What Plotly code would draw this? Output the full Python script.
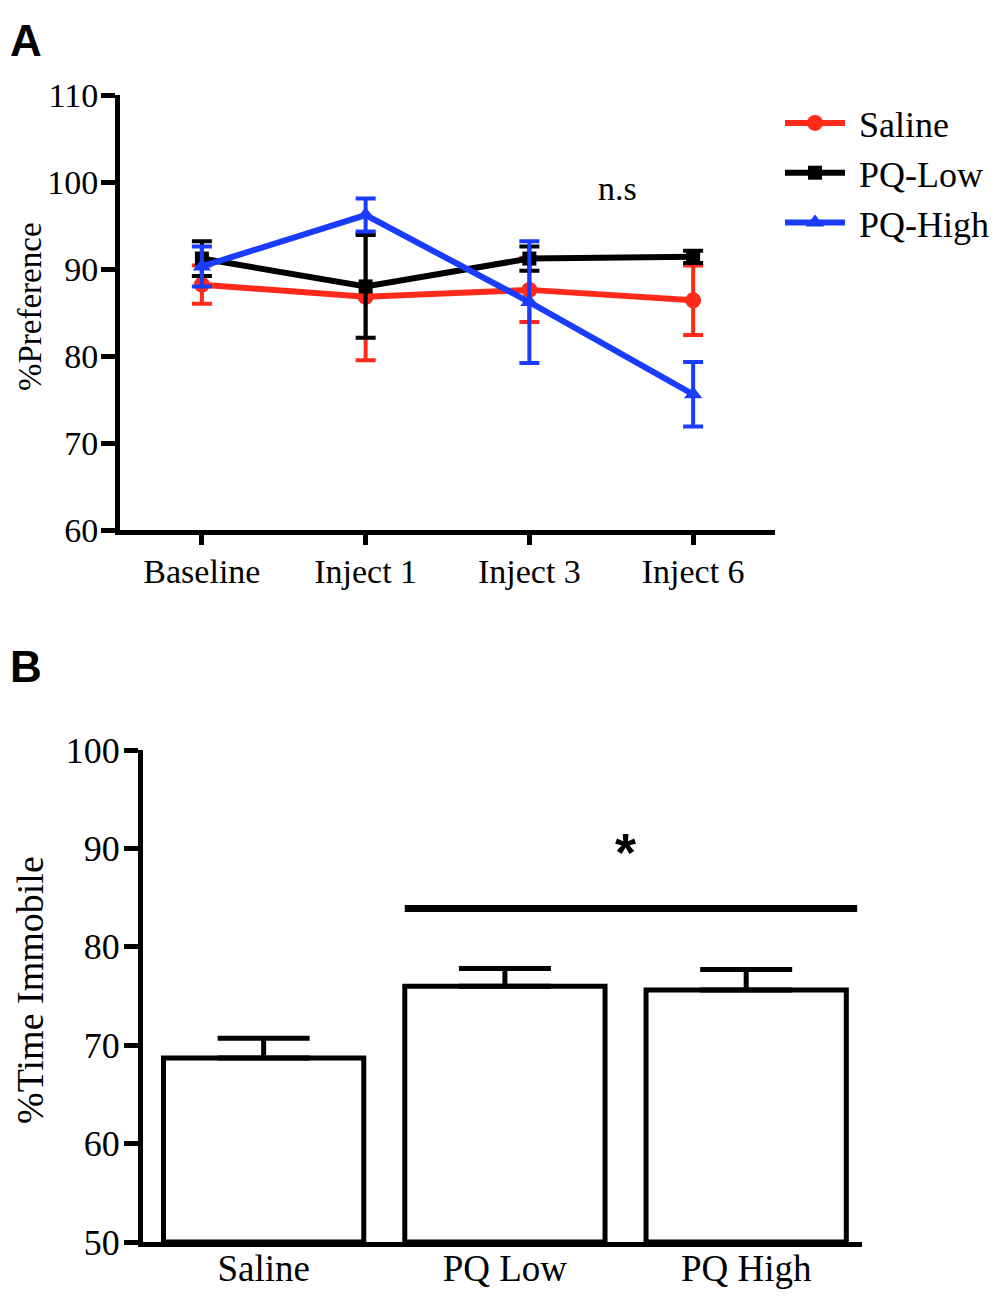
#!/usr/bin/env python3
"""Two-panel figure: sucrose preference over injections (A) and immobility time (B)."""
import plotly.graph_objects as go

# ---- panel A data ----
timepoints = ["Baseline", "Inject 1", "Inject 3", "Inject 6"]
saline_pref = [88.2, 86.8, 87.6, 86.4]
saline_pref_err = [2.2, 7.3, 3.7, 4.0]
pq_low_pref = [91.2, 88.0, 91.2, 91.4]
pq_low_pref_err = [2.0, 5.9, 1.4, 0.7]
pq_high_pref = [90.3, 96.2, 86.2, 75.6]
pq_high_pref_err = [2.3, 1.9, 7.0, 3.7]

# ---- panel B data ----
groups = ["Saline", "PQ Low", "PQ High"]
immobile = [68.7, 76.0, 75.6]
immobile_err = [2.0, 1.8, 2.1]

SERIF = "Liberation Serif, Times New Roman, serif"
SANS = "Liberation Sans, Arial, sans-serif"
# the page body has an 8px margin, so the figure is a bit smaller than the window
OFF = 8
W, H = 1002 - 2 * OFF, 1300 - 2 * OFF


def px_x(p):
    # p is a pixel position in the window
    return (p - OFF) / W


def px_y(p):
    return 1 - (p - OFF) / H


fig = go.Figure()

series = [
    ("Saline", saline_pref, saline_pref_err, "#ff2a1a", "circle", 16),
    ("PQ-Low", pq_low_pref, pq_low_pref_err, "#000000", "square", 14),
    ("PQ-High", pq_high_pref, pq_high_pref_err, "#1a3cff", "triangle-up", 16),
]
for name, vals, errs, col, sym, sz in series:
    fig.add_trace(
        go.Scatter(
            x=timepoints,
            y=vals,
            name="\u00a0" + name,
            mode="lines+markers",
            line=dict(color=col, width=6),
            marker=dict(color=col, symbol=sym, size=sz),
            error_y=dict(type="data", array=errs, color=col, thickness=4, width=10),
            xaxis="x",
            yaxis="y",
        )
    )

fig.add_trace(
    go.Bar(
        x=groups,
        y=[v - 50 for v in immobile],
        base=50,
        width=0.83,
        marker=dict(color="white", line=dict(color="black", width=5)),
        error_y=dict(
            type="data",
            symmetric=False,
            array=immobile_err,
            arrayminus=[0] * len(immobile_err),
            color="black",
            thickness=5,
            width=46,
        ),
        showlegend=False,
        xaxis="x2",
        yaxis="y2",
    )
)

axis_common = dict(
    showline=True,
    linecolor="black",
    linewidth=5,
    showgrid=False,
    zeroline=False,
    ticks="outside",
    tickcolor="black",
    tickwidth=5,
    ticklen=14,
    automargin=False,
)

fig.update_layout(
    width=W,
    height=H,
    margin=dict(l=0, r=0, t=0, b=0, autoexpand=False),
    paper_bgcolor="white",
    plot_bgcolor="white",
    font=dict(family=SERIF, color="black"),
    xaxis=dict(
        axis_common,
        domain=[px_x(120), px_x(775)],
        anchor="y",
        range=[-0.5, 3.5],
        ticklen=10,
        ticklabelstandoff=-3,
        tickfont=dict(size=34),
    ),
    yaxis=dict(
        axis_common,
        domain=[px_y(530), px_y(95)],
        anchor="x",
        range=[60, 110],
        tickvals=[60, 70, 80, 90, 100, 110],
        ticklabelstandoff=-4,
        tickfont=dict(size=34),
    ),
    xaxis2=dict(
        axis_common,
        domain=[px_x(143), px_x(862)],
        anchor="y2",
        range=[-0.5, 2.48],
        ticks="",
        ticklabelstandoff=-10,
        tickfont=dict(size=37),
    ),
    yaxis2=dict(
        axis_common,
        domain=[px_y(1242), px_y(750)],
        anchor="x2",
        range=[50, 100],
        tickvals=[50, 60, 70, 80, 90, 100],
        ticklabelstandoff=-3,
        tickfont=dict(size=36),
    ),
    legend=dict(
        x=px_x(780),
        y=px_y(93),
        xanchor="left",
        yanchor="top",
        font=dict(size=36),
        itemwidth=60,
        bgcolor="rgba(0,0,0,0)",
    ),
)

# significance bar across the PQ groups
fig.add_shape(
    type="line",
    xref="x2",
    yref="y2",
    x0=0.585,
    x1=2.46,
    y0=83.9,
    y1=83.9,
    line=dict(color="black", width=7),
)

fig.add_annotation(x=px_x(30), y=px_y(307), xref="paper", yref="paper", text="%Preference",
                   xanchor="center", yanchor="middle", textangle=-90, showarrow=False,
                   font=dict(size=33))
fig.add_annotation(x=px_x(30), y=px_y(990), xref="paper", yref="paper", text="%Time Immobile",
                   xanchor="center", yanchor="middle", textangle=-90, showarrow=False,
                   font=dict(size=38))
fig.add_annotation(x="Inject 3", y=99.2, xref="x", yref="y", xshift=88, text="n.s",
                   showarrow=False, font=dict(size=34))
fig.add_annotation(x=1.50, y=89.6, xref="x2", yref="y2", text="<b>*</b>",
                   showarrow=False, font=dict(family=SANS, size=54))
fig.add_annotation(x=0, y=px_y(41), xref="paper", yref="paper", xanchor="left", yanchor="middle",
                   text="<b>A</b>", showarrow=False, font=dict(family=SANS, size=44))
fig.add_annotation(x=0, y=px_y(666), xref="paper", yref="paper", xanchor="left", yanchor="middle",
                   text="<b>B</b>", showarrow=False, font=dict(family=SANS, size=44))

fig.write_html("out.html")
